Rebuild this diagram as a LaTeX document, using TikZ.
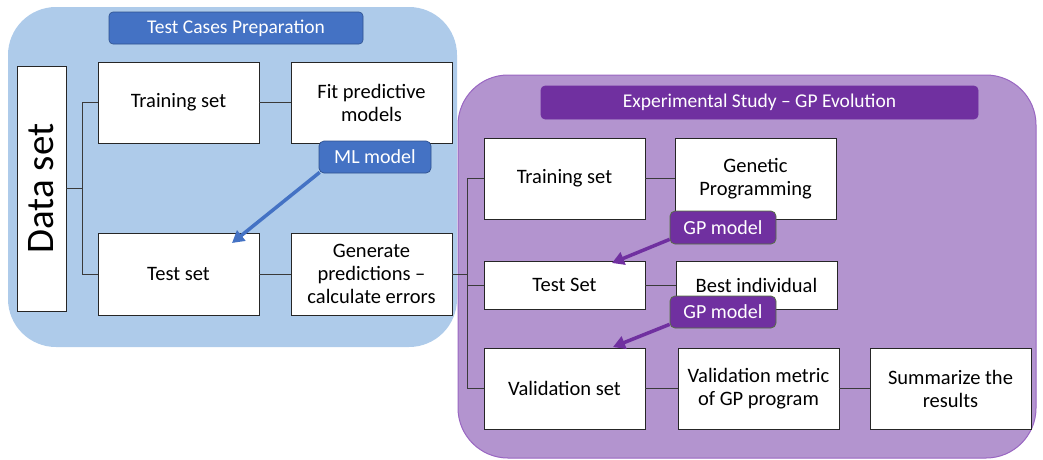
\documentclass[tikz,border=0pt]{standalone}
\usepackage{fontspec}
\setmainfont{Carlito}
\usetikzlibrary{arrows.meta,calc}
\definecolor{prepbg}{HTML}{AECBEA}
\definecolor{prepdark}{HTML}{4472C4}
\definecolor{prepedge}{HTML}{2F528F}
\definecolor{evobg}{HTML}{B394CF}
\definecolor{evoedge}{HTML}{9966C2}
\definecolor{evodark}{HTML}{7030A0}
\definecolor{gpedge}{HTML}{54733F}
\definecolor{wire}{HTML}{3A3A3A}
\begin{document}
\begin{tikzpicture}[x=1pt,y=-1pt,
  stage/.style={draw=black!85, line width=0.9pt, fill=white, inner sep=2pt,
    align=center, text=black, font=\fontsize{20.5}{23}\selectfont},
  sz/.style 2 args={minimum width=#1pt, minimum height=#2pt},
  banner/.style={rounded corners=4pt, line width=0.6pt, text=white,
    inner sep=0pt, font=\fontsize{19.5}{22}\selectfont},
  tag/.style={rounded corners=5pt, line width=0.7pt, text=white,
    inner sep=0pt, font=\fontsize{20}{22}\selectfont},
  wireline/.style={draw=wire, line width=0.8pt},
  flow/.style={line width=3.5pt, -{Triangle[length=12pt,width=13pt]}}
]
\useasboundingbox (0,0) rectangle (1043,459);

% regions
\fill[prepbg, rounded corners=48pt] (8,7) rectangle (457,347);
\filldraw[fill=evobg, draw=evoedge, line width=1pt, rounded corners=50pt]
  (458,75) rectangle (1036,458);

% test cases preparation
\node[banner, fill=prepdark, draw=prepedge, sz={254}{32}] (prep) at (236,28) {Test Cases Preparation};
\node[stage, sz={245}{49}, rotate=90, font=\fontsize{39}{40}\selectfont] (ds) at (41.5,188.5) {Data set};
\node[stage, sz={161}{81}] (trA) at (178.5,102.5) {Training set};
\node[stage, sz={161}{81}] (fit) at (371.5,102.5) {Fit predictive\\models};
\node[stage, sz={161}{82}] (tsA) at (178.5,274) {Test set};
\node[stage, sz={161}{82}] (gen) at (371.5,274) {Generate\\predictions --\\calculate errors};

% experimental study
\node[banner, fill=evodark, draw=evodark, sz={437}{33}] (evo) at (759.5,102.5) {Experimental Study -- GP Evolution};
\node[stage, sz={161}{81}] (trB) at (564.5,178.5) {Training set};
\node[stage, sz={161}{81}] (gp) at (755.5,178.5) {Genetic\\Programming};
\node[stage, sz={161}{48}] (tsB) at (564.5,285) {Test Set};
\node[stage, sz={161}{48}] (best) at (756.5,285) {Best individual};
\node[stage, sz={161}{81}] (val) at (564.5,388.5) {Validation set};
\node[stage, sz={161}{81}] (metric) at (758.5,388.5) {Validation metric\\of GP program};
\node[stage, sz={161}{81}] (summ) at (950.5,388.5) {Summarize the\\results};

% connectors
\coordinate (busA) at (82,0);
\coordinate (busB) at (467,0);
\draw[wireline] (ds.south) -- (ds.south -| busA);
\draw[wireline] (trA.west) -- (trA.west -| busA) |- (tsA.west);
\draw[wireline] (trA) -- (fit);
\draw[wireline] (tsA) -- (gen);
\draw[wireline] (gen.east) -- (gen.east -| busB);
\draw[wireline] (trB.west) -- (trB.west -| busB) |- (val.west);
\draw[wireline] (tsB.west) -- (tsB.west -| busB);
\draw[wireline] (trB) -- (gp);
\draw[wireline] (tsB) -- (best);
\draw[wireline] (val) -- (metric);
\draw[wireline] (metric) -- (summ);

% model tags and their arrows
\node[tag, fill=prepdark, draw=prepedge, sz={112}{32}] (ml) at (375,157) {ML model};
\node[tag, fill=evodark, draw=gpedge, sz={106}{33}] (gpA) at (723,227.5) {GP model};
\node[tag, fill=evodark, draw=gpedge, sz={106}{32}] (gpB) at (723,312) {GP model};
\coordinate (mlend) at (232,243);
\coordinate (gpAend) at (612,263);
\coordinate (gpBend) at (613,347);
\draw[flow, prepdark] ($(ml.south west)+(1,-1)$) -- (mlend);
\draw[flow, evodark] ($(gpA.south west)+(0,-5)$) -- (gpAend);
\draw[flow, evodark] ($(gpB.south west)+(0,-4)$) -- (gpBend);
\end{tikzpicture}
\end{document}
